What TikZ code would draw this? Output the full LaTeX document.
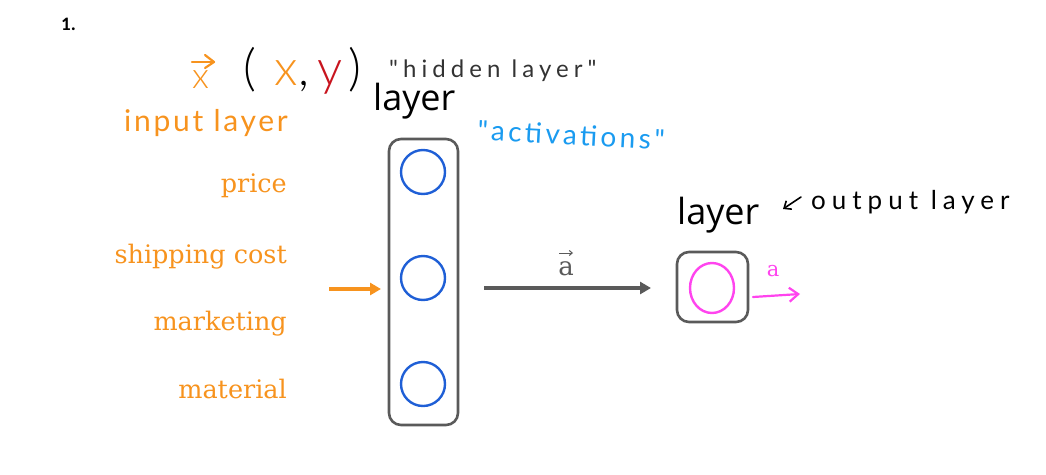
\documentclass[tikz,border=0pt]{standalone}
\usepackage{fontspec}
\setmainfont{DejaVu Serif}
\newfontfamily\calib{Open Sans}
\newfontfamily\numfont{Carlito}
\newfontfamily\handA[LetterSpace=21]{Lato}
\newfontfamily\handB[LetterSpace=23]{Lato}
\newfontfamily\handC[LetterSpace=12]{Lato}
\newfontfamily\handD[LetterSpace=9]{Lato}
\newfontfamily\handE{Lato Light}
\usetikzlibrary{arrows.meta,shapes.geometric}
\definecolor{inorange}{HTML}{F7931E}
\definecolor{boxgray}{HTML}{5A5A5A}
\definecolor{nodeblue}{HTML}{1F5FD6}
\definecolor{actblue}{HTML}{1A9BF0}
\definecolor{outpink}{HTML}{FF44EE}
\definecolor{ydred}{HTML}{C8141E}
\begin{document}
\begin{tikzpicture}[x=1pt,y=-1pt,
  layerbox/.style={draw=boxgray,line width=2.6pt,rounded corners=12pt},
  neuron/.style={draw=nodeblue,line width=2.4pt,circle,minimum size=44pt,inner sep=0pt},
  feat/.style={text=inorange,anchor=base east,font=\fontsize{25.5}{28}\selectfont,inner sep=0pt},
  layertxt/.style={anchor=base west,inner sep=0pt,font=\calib\fontsize{36}{40}\selectfont},
  handtxt/.style={anchor=base west,inner sep=0pt},
  paren/.style={anchor=base west,inner sep=0pt,font=\handE\fontsize{50}{54}\selectfont},
  thickarrow/.style={line width=3.5pt,-{Triangle[length=11pt,width=12pt]}}
]
\useasboundingbox (0,0) rectangle (1046,474);
% title number
\node[anchor=base west,inner sep=0pt,font=\numfont\bfseries\fontsize{19}{21}\selectfont] (num) at (61,30) {1.};
% x vector and (x,y)
\node[handtxt,text=inorange,font=\handE\fontsize{36}{38}\selectfont] (xv) at (192,88) {x};
\coordinate (xva) at (192,62);
\coordinate (xvb) at (214,62);
\draw[inorange,line width=2.2pt,line cap=round] (xva) -- (xvb);
\draw[inorange,line width=2.2pt,line cap=round,line join=round] (205,55) -- (214,62) -- (205,68);
\node[paren] (lp) at (243,85) {(};
\node[paren,text=inorange] (xx) at (274,85) {x};
\node[paren] (cm) at (298,85) {,};
\node[paren,text=ydred] (yy) at (317,85) {y};
\node[paren] (rp) at (348,85) {)};
\node[handtxt,text=black!80,font=\handA\fontsize{24}{26}\selectfont] (hid) at (389,77) {"hidden layer"};
\node[layertxt] (l1) at (373,110) {layer};
\node[handtxt,text=inorange,font=\handD\fontsize{30}{32}\selectfont] (inl) at (124,131) {input layer};
\node[handtxt,text=actblue,font=\handC\fontsize{28}{30}\selectfont,rotate=-3] (act) at (477,140) {"activations"};
% hidden layer
\draw[layerbox] (389,139) rectangle (458,425);
\coordinate (hl) at (389,289);
\node[neuron] (h1) at (423,172) {};
\node[neuron] (h2) at (423,278) {};
\node[neuron] (h3) at (423,384) {};
% features
\node[feat] (f1) at (287,192) {price};
\node[feat] (f2) at (287,263) {shipping cost};
\node[feat] (f3) at (287,330) {marketing};
\node[feat] (f4) at (287,398) {material};
\coordinate (inA) at (329,289);
\coordinate (inB) at (381,289);
\draw[thickarrow,inorange] (inA) -- (inB);
% to output
\coordinate (mA) at (484,288);
\coordinate (mB) at (651,288);
\draw[thickarrow,boxgray] (mA) -- (mB);
\node[text=boxgray,anchor=base,inner sep=0pt,font=\fontsize{26}{28}\selectfont] (avec) at (566,275) {a};
\coordinate (avA) at (559,253);
\coordinate (avB) at (573,253);
\draw[boxgray,line width=1pt,-{Straight Barb[length=3pt,width=5pt]}] (avA) -- (avB);
% output layer
\node[layertxt] (l2) at (677,224) {layer};
\draw[layerbox] (677,252) rectangle (748,322);
\node[draw=outpink,line width=2.4pt,ellipse,minimum width=44pt,minimum height=50pt,inner sep=0pt] (o1) at (712,288) {};
\coordinate (oA) at (753,297);
\coordinate (oB) at (800,294);
\draw[outpink,line width=2.2pt,line cap=round,-{Straight Barb[length=9pt,width=14pt]}] (oA) -- (oB);
\node[text=outpink,anchor=base,inner sep=0pt,font=\fontsize{21}{23}\selectfont] (oa) at (773,276) {a};
\coordinate (arA) at (801,197);
\coordinate (arB) at (783,209);
\draw[black,line width=1.6pt,line cap=round,-{Straight Barb[length=6pt,width=10pt]}] (arA) -- (arB);
\node[handtxt,font=\handB\fontsize{26}{28}\selectfont] (outl) at (811,209) {output layer};
\end{tikzpicture}
\end{document}
